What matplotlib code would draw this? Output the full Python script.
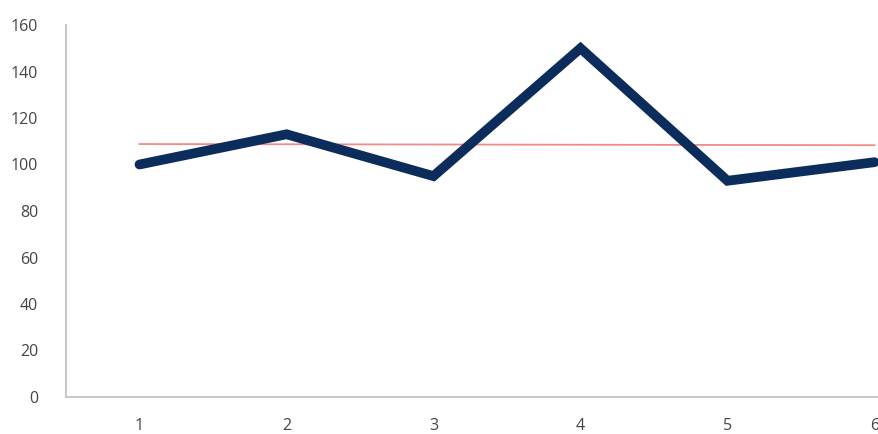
import matplotlib.pyplot as plt

### DATA ###
categories = [1, 2, 3, 4, 5, 6]
values = [100, 113, 95, 150, 93, 101]
average = [108.8, 108.7, 108.6, 108.5, 108.4, 108.3]
y_ticks = [0, 20, 40, 60, 80, 100, 120, 140, 160]

### PLOT ###
plt.rcParams['font.family'] = ['Open Sans', 'DejaVu Sans']
fig = plt.figure(figsize=(8.79, 4.34), dpi=100, facecolor='w')
# axes run past the right edge, like the cropped original
ax = fig.add_axes([66 / 879, 37 / 434, 882 / 879, 372 / 434])

ax.plot(categories, average, color='#f28a8a', linewidth=1.3)
ax.plot(categories, values, color='#0c2c5c', linewidth=7, solid_joinstyle='miter',
        solid_capstyle='round')

ax.set_xlim(0.5, 6.5)
ax.set_ylim(0, 160)
ax.set_yticks(y_ticks)
ax.set_xticks(categories)

for side in ['top', 'right']:
    ax.spines[side].set_visible(False)
for side in ['left', 'bottom']:
    ax.spines[side].set_color('#c8c8c8')
    ax.spines[side].set_linewidth(1.5)

ax.tick_params(axis='both', length=0, labelsize=11.5, labelcolor='#444444')
ax.tick_params(axis='y', pad=20)
ax.tick_params(axis='x', pad=15)

fig.savefig('out.png', dpi=100)
